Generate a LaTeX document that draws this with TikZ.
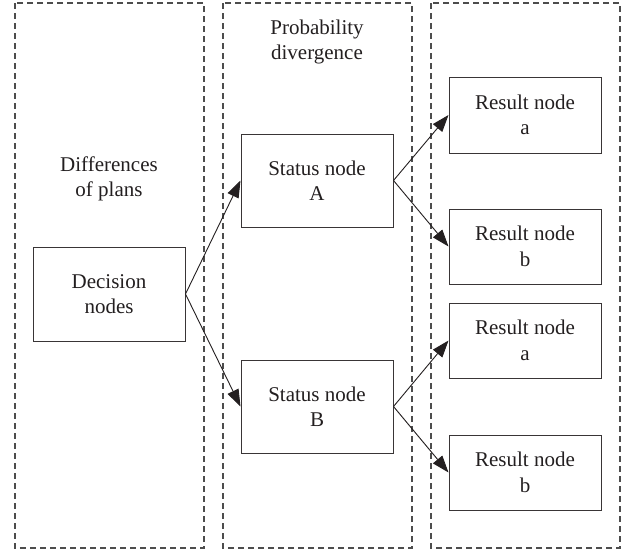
\documentclass[tikz,border=0pt]{standalone}
\usepackage{fontspec}
\setmainfont{Liberation Serif}
\usetikzlibrary{arrows.meta}
\definecolor{ink}{HTML}{231F20}
\definecolor{frame}{HTML}{4D4D4D}
\begin{document}
\begin{tikzpicture}[x=1pt,y=-1pt,
  lane/.style={draw=frame,line width=1.1pt,dash pattern=on 6pt off 4pt},
  box/.style={draw=ink!90,line width=1pt,minimum width=152pt,align=center,
    text=ink,font=\fontsize{21}{25.5}\selectfont,inner sep=0pt},
  caption/.style={align=center,text=ink,font=\fontsize{21}{25.5}\selectfont,inner sep=0pt},
  link/.style={draw=ink,line width=0.9pt,-{Triangle[length=17pt,width=12pt]}}]
\useasboundingbox (0,0) rectangle (628,552);
% three dashed lanes
\draw[lane] (15,3) rectangle (204,548);
\draw[lane] (223,3) rectangle (412,548);
\draw[lane] (431,3) rectangle (620,548);
% lane captions
\node[caption] (plans) at (109,179) {Differences\\of plans};
\node[caption] (prob) at (317,42) {Probability\\divergence};
% nodes
\node[box,minimum height=94pt] (dec) at (109,294) {Decision\\nodes};
\node[box,minimum height=93pt] (sa) at (317,180.5) {Status node\\A};
\node[box,minimum height=93pt] (sb) at (317,406.5) {Status node\\B};
\node[box,minimum height=76pt] (ra1) at (525,115) {Result node\\a};
\node[box,minimum height=75pt] (rb1) at (525,246.5) {Result node\\b};
\node[box,minimum height=75pt] (ra2) at (525,340.5) {Result node\\a};
\node[box,minimum height=75pt] (rb2) at (525,472.5) {Result node\\b};
% connectors
\draw[link] (dec.east) -- (sa.west);
\draw[link] (dec.east) -- (sb.west);
\draw[link] (sa.east) -- (ra1.west);
\draw[link] (sa.east) -- (rb1.west);
\draw[link] (sb.east) -- (ra2.west);
\draw[link] (sb.east) -- (rb2.west);
\end{tikzpicture}
\end{document}
